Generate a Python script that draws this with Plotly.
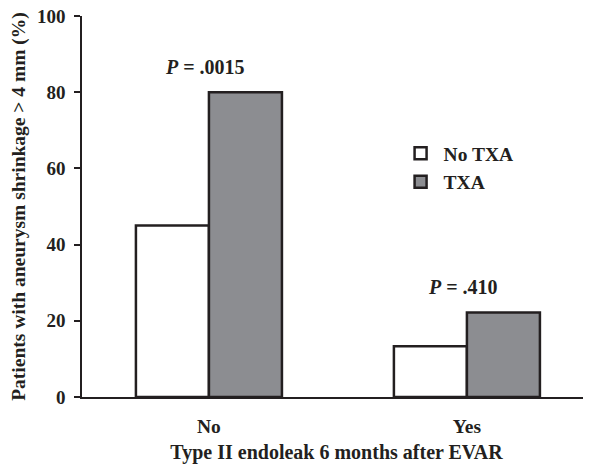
import plotly.graph_objects as go

categories = ["No", "Yes"]
no_txa = [45.0, 13.3]
txa = [80.0, 22.2]
p_labels = ["<b><i>P</i> = .0015</b>", "<b><i>P</i> = .410</b>"]
p_label_y = [86.5, 28.8]
y_ticks = [0, 20, 40, 60, 80, 100]

FONT = "Liberation Serif"
INK = "#231f20"

fig = go.Figure()
fig.add_trace(go.Bar(
    x=categories, y=no_txa, name="<b>No TXA</b>",
    marker=dict(color="white", line=dict(color=INK, width=2.5)),
))
fig.add_trace(go.Bar(
    x=categories, y=txa, name="<b>TXA</b>",
    marker=dict(color="#8c8d91", line=dict(color=INK, width=2.5)),
))

for cat, lab, yy in zip(categories, p_labels, p_label_y):
    fig.add_annotation(x=cat, y=yy, xref="x", yref="y", text=lab, xshift=-4,
                       showarrow=False, font=dict(family=FONT, size=20, color=INK))

fig.update_layout(
    width=583, height=456,
    margin=dict(l=74, r=0, t=8, b=67),
    paper_bgcolor="white", plot_bgcolor="white",
    barmode="group", bargap=0.434, bargroupgap=0,
    font=dict(family=FONT, color=INK),
    showlegend=True,
    legend=dict(x=0.62, y=0.69, xanchor="left", yanchor="top",
                font=dict(family=FONT, size=19.5, color=INK),
                itemwidth=36,
                bgcolor="rgba(0,0,0,0)"),
    xaxis=dict(
        type="category", range=[-0.492, 1.481], automargin=False,
        showline=True, linecolor=INK, linewidth=1.5,
        ticks="", showgrid=False, zeroline=False,
        tickfont=dict(family=FONT, size=19.5, color=INK),
        ticklabelstandoff=11, ticklabeloverflow="allow",
        tickvals=categories, ticktext=["<b>" + c + "</b>" for c in categories],
        title=dict(text="<b>Type II endoleak 6 months after EVAR</b>",
                   font=dict(family=FONT, size=20, color=INK), standoff=20),
    ),
    yaxis=dict(
        range=[0, 100], tickvals=y_ticks, automargin=False,
        ticktext=["<b>%d</b>\u00a0" % v for v in y_ticks],
        ticklabeloverflow="allow",
        showline=True, linecolor=INK, linewidth=2,
        ticks="outside", ticklen=6, tickwidth=1.5, tickcolor=INK,
        showgrid=False, zeroline=False,
        tickfont=dict(family=FONT, size=19, color=INK),
        title=dict(text="<b>Patients with aneurysm shrinkage > 4 mm (%)</b>",
                   font=dict(family=FONT, size=19.5, color=INK), standoff=10),
    ),
)

fig.write_html("out.html")
